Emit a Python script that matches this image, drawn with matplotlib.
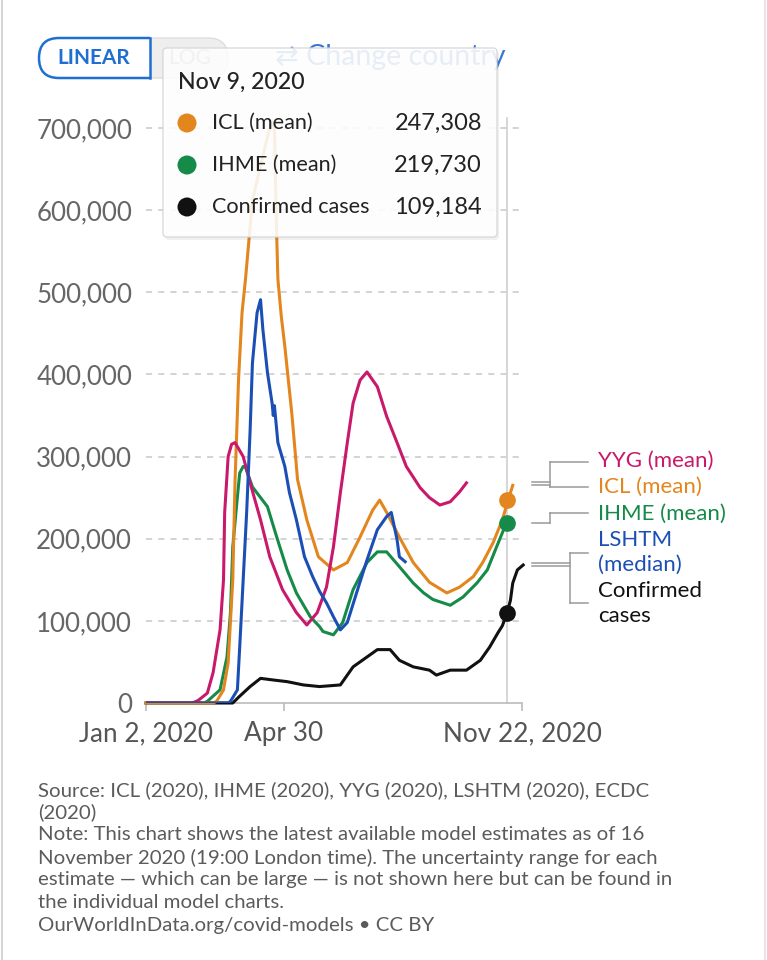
import matplotlib
matplotlib.use("Agg")
import matplotlib.pyplot as plt
from matplotlib.patches import FancyBboxPatch, Rectangle, Circle
import numpy as np

plt.rcParams['font.family'] = ['Lato', 'DejaVu Sans']

# ---- data (days since Jan 2, 2020 ; values in thousands of daily infections) ----
yyg_days = [0, 40, 45, 53, 58, 64, 67, 68, 71, 74, 77, 84, 91, 99, 107, 118, 130, 139, 148, 156,
            162, 168, 174, 179, 185, 191, 200, 208, 217, 225, 237, 245, 254, 263, 271, 277]
yyg_vals = [0, 0, 3, 12, 37, 89, 150, 232, 300, 315, 317, 300, 263, 223, 178, 138, 110, 95, 110, 141,
            190, 256, 317, 365, 393, 403, 385, 349, 317, 288, 262, 250, 241, 245, 257, 268]

icl_days = [0, 58, 61, 67, 71, 75, 77, 80, 83, 86, 90, 92, 100, 106, 109, 111, 113, 114, 117, 120,
            126, 131, 139, 149, 162, 174, 185, 196, 202, 208, 219, 231, 245, 260, 271, 283, 291,
            300, 308, 313, 317]
icl_vals = [0, 0, 2, 16, 49, 150, 272, 394, 475, 516, 580, 612, 660, 695, 708, 700, 568, 516, 470,
            434, 353, 272, 223, 178, 162, 171, 202, 235, 247, 232, 202, 171, 147, 134, 141, 154, 171,
            195, 223, 247, 265]

ihme_days = [0, 50, 53, 64, 70, 73, 75, 79, 81, 84, 86, 92, 105, 113, 122, 130, 142, 150, 153, 162,
             170, 179, 191, 200, 208, 219, 231, 240, 248, 263, 274, 286, 295, 303, 310, 313]
ihme_vals = [0, 0, 2, 16, 56, 110, 190, 251, 280, 288, 287, 263, 239, 202, 162, 134, 105, 93, 87, 83,
             98, 138, 171, 184, 184, 166, 146, 134, 126, 119, 129, 146, 162, 190, 214, 222]

lshtm_days = [0, 71, 73, 79, 81, 84, 87, 90, 92, 96, 99, 101, 105, 109, 110, 111, 114, 120, 124,
              130, 137, 144, 150, 156, 162, 168, 174, 182, 191, 200, 208, 212, 217, 219, 224]
lshtm_vals = [0, 0, 2, 16, 68, 150, 232, 332, 414, 475, 491, 455, 402, 365, 350, 362, 317, 288, 256,
              223, 178, 154, 136, 122, 105, 89, 98, 134, 174, 211, 227, 232, 199, 178, 172]

case_days = [0, 75, 80, 90, 99, 110, 122, 136, 150, 168, 179, 191, 200, 211, 219, 231, 245, 251, 263,
             277, 289, 297, 304, 308, 312, 315, 317, 321, 326]
case_vals = [0, 0, 7, 20, 30, 28, 26, 22, 20, 22, 44, 56, 65, 65, 52, 44, 40, 34, 40, 40, 52, 68, 85,
             94, 109, 125, 146, 162, 168]

hover_day = 312
hover_date = "Nov 9, 2020"
hover_names = ["ICL (mean)", "IHME (mean)", "Confirmed cases"]
hover_values = ["247,308", "219,730", "109,184"]

xtick_days = [0, 119, 325]
xtick_labels = ["Jan 2, 2020", "Apr 30", "Nov 22, 2020"]
yticks = [0, 100, 200, 300, 400, 500, 600, 700]

c_yyg = '#c8196b'
c_icl = '#e3861d'
c_ihme = '#168a48'
c_lshtm = '#1c4fb6'
c_case = '#111111'

W, H = 767, 960
fig = plt.figure(figsize=(W / 100, H / 100), dpi=100)
fig.patch.set_facecolor('white')

# main axes: x from px 146 to 522, y=0 at px 703, 82.14 px per 100k
ymax = 760
top_px = 703 - ymax * 0.8214
ax = fig.add_axes([146 / W, 1 - 703 / H, (522 - 146) / W, (703 - top_px) / H])
ax.set_xlim(0, 325)
ax.set_ylim(0, ymax)
for s in ['top', 'right', 'left']:
    ax.spines[s].set_visible(False)
ax.spines['bottom'].set_color('#bbbbbb')
ax.spines['bottom'].set_linewidth(1.2)

ax.set_yticks(yticks)
ax.set_yticklabels(['0' if v == 0 else f"{v * 1000:,}" for v in yticks],
                   fontsize=18.6, color='#666666')
ax.tick_params(axis='y', length=0, pad=10)
ax.set_xticks(xtick_days)
ax.set_xticklabels(xtick_labels, fontsize=18.8, color='#555555')
ax.tick_params(axis='x', length=6, color='#bbbbbb', width=1.2, pad=7)
for v in yticks[1:]:
    ax.axhline(v, color='#c8c8c8', lw=1.1, ls=(0, (4, 4)), zorder=0)

# hover line
ax.plot([hover_day, hover_day], [0, 712], color='#d0d0d0', lw=1.2, zorder=1, clip_on=False)

lw = 2.2
ax.plot(case_days, case_vals, color=c_case, lw=lw, zorder=3, clip_on=False)
ax.plot(ihme_days, ihme_vals, color=c_ihme, lw=lw, zorder=3)
ax.plot(icl_days, icl_vals, color=c_icl, lw=lw, zorder=3, clip_on=False)
ax.plot(lshtm_days, lshtm_vals, color=c_lshtm, lw=lw, zorder=4)
ax.plot(yyg_days, yyg_vals, color=c_yyg, lw=lw, zorder=3)

icl_hover = float(hover_values[0].replace(',', '')) / 1000
ihme_hover = float(hover_values[1].replace(',', '')) / 1000
case_hover = float(hover_values[2].replace(',', '')) / 1000
for val, col in [(icl_hover, c_icl), (ihme_hover, c_ihme), (case_hover, c_case)]:
    ax.plot(hover_day, val, 'o', ms=11, color=col, zorder=6, clip_on=False)

# overlay in pixel coordinates for UI parts
ov = fig.add_axes([0, 0, 1, 1], zorder=10)
ov.set_xlim(0, W)
ov.set_ylim(H, 0)
ov.axis('off')
ov.patch.set_visible(False)

# page edges
ov.plot([2, 2], [0, H], color='#d5d5d5', lw=1.5)
ov.plot([765, 765], [0, H], color='#e5e5e5', lw=1.5)

# LINEAR / LOG toggle
log_btn = FancyBboxPatch((120, 38), 108, 40, boxstyle="round,pad=0,rounding_size=20",
                         fc='#eeeeee', ec='#dddddd', lw=1, zorder=1)
ov.add_patch(log_btn)
lin_btn = FancyBboxPatch((39, 38), 150, 40, boxstyle="round,pad=0,rounding_size=20",
                         fc='white', ec='#1f6fd0', lw=1.8, zorder=2)
ov.add_patch(lin_btn)
clip = Rectangle((30, 30), 120, 60, transform=ov.transData)
lin_btn.set_clip_path(clip)
ov.plot([150, 150], [38, 78], color='#1f6fd0', lw=1.8, zorder=2)
ov.text(94, 58, "LINEAR", ha='center', va='center', fontsize=15, fontweight='bold',
        color='#1f6fd0', zorder=2)
ov.text(190, 58, "LOG", ha='center', va='center', fontsize=15, color='#9a9a9a', zorder=1)
ov.text(275, 57, "⇄ Change country", ha='left', va='center', fontsize=20.5, color='#3a78d0', zorder=1)

# tooltip
shadow = FancyBboxPatch((165, 51), 334, 189, boxstyle="round,pad=0,rounding_size=4",
                        fc='#000000', ec='none', alpha=0.06, zorder=4)
ov.add_patch(shadow)
tip = FancyBboxPatch((163, 48), 334, 189, boxstyle="round,pad=0,rounding_size=4",
                     fc='white', ec='#d6d6d6', lw=1, alpha=0.88, zorder=5)
ov.add_patch(tip)
ov.text(178, 82, hover_date, ha='left', va='center', fontsize=16.7, color='#222222',
        fontweight='medium', zorder=6)
row_y = [123, 165, 207]
for yy, name, val, col in zip(row_y, hover_names, hover_values, [c_icl, c_ihme, c_case]):
    ov.add_patch(Circle((187, yy), 9.5, fc=col, ec='none', zorder=6))
    ov.text(212, yy, name, ha='left', va='center', fontsize=15.6, color='#222222', zorder=6)
    ov.text(482, yy, val, ha='right', va='center', fontsize=17, color='#222222', zorder=6)

# right-hand labels with connectors
lab_x = 598
labels = [("YYG (mean)", c_yyg, 461), ("ICL (mean)", c_icl, 487), ("IHME (mean)", c_ihme, 514),
          ("LSHTM", c_lshtm, 540), ("(median)", c_lshtm, 565), ("Confirmed", c_case, 591),
          ("cases", c_case, 616)]
for txt, col, yy in labels:
    ov.text(lab_x, yy, txt, ha='left', va='center', fontsize=16, color=col)

gc = '#9a9a9a'
glw = 1.1
# YYG + ICL
ov.plot([532, 550], [482, 482], color=gc, lw=glw)
ov.plot([532, 550], [485, 485], color=gc, lw=glw)
ov.plot([550, 550], [462, 487], color=gc, lw=glw)
ov.plot([550, 588], [462, 462], color=gc, lw=glw)
ov.plot([550, 588], [487, 487], color=gc, lw=glw)
# IHME
ov.plot([532, 550], [523, 523], color=gc, lw=glw)
ov.plot([550, 550], [513, 523], color=gc, lw=glw)
ov.plot([550, 588], [513, 513], color=gc, lw=glw)
# LSHTM + confirmed
ov.plot([532, 570], [563, 563], color=gc, lw=glw)
ov.plot([532, 570], [566, 566], color=gc, lw=glw)
ov.plot([570, 570], [553, 603], color=gc, lw=glw)
ov.plot([570, 588], [553, 553], color=gc, lw=glw)
ov.plot([570, 588], [603, 603], color=gc, lw=glw)

# footer
footer = ["Source: ICL (2020), IHME (2020), YYG (2020), LSHTM (2020), ECDC",
          "(2020)",
          "Note: This chart shows the latest available model estimates as of 16",
          "November 2020 (19:00 London time). The uncertainty range for each",
          "estimate \u2014 which can be large \u2014 is not shown here but can be found in",
          "the individual model charts.",
          "OurWorldInData.org/covid-models \u2022 CC BY"]
for i, line in enumerate(footer):
    ov.text(38, 790 + i * 22.5, line, ha='left', va='center', fontsize=14.7, color='#5b5b5b')

fig.savefig('out.png', dpi=100)
